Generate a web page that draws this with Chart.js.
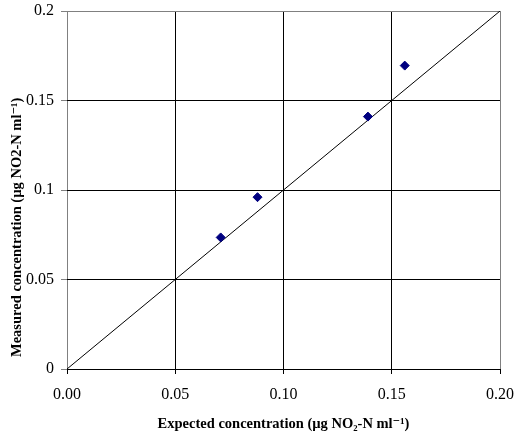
<!DOCTYPE html>
<html>
<head>
<meta charset="utf-8">
<script src="https://cdn.jsdelivr.net/npm/chart.js@4"></script>
<style>
  html, body { margin: 0; padding: 0; background: #ffffff; }
  #wrap { width: 515px; height: 437px; }
</style>
</head>
<body>
<div id="wrap"><canvas id="c" width="515" height="437"></canvas></div>
<script>
// Expected vs. measured nitrite concentration (µg NO2-N per ml)
const expected = [0.071, 0.088, 0.139, 0.156];
const measured = [0.0735, 0.096, 0.141, 0.1695];

// 1:1 reference line
const lineX = [0, 0.2];
const lineY = [0, 0.2];

const xTicks = [0, 0.05, 0.1, 0.15, 0.2];
const yTicks = [0, 0.05, 0.1, 0.15, 0.2];

const xTitle = 'Expected concentration (µg NO₂-N ml⁻¹)';
const yTitle = 'Measured concentration (µg NO2-N ml⁻¹)';

const points = expected.map((v, i) => ({ x: v, y: measured[i] }));
const oneToOne = lineX.map((v, i) => ({ x: v, y: lineY[i] }));

const serif = "'Liberation Serif', 'DejaVu Serif', serif";
const GRAY = '#808080';
const titleFont = 'bold 14.5px ' + serif;

// Vertical axis title, set a little below centre like a spreadsheet chart
const yTitlePlugin = {
  id: 'yTitle',
  afterDraw(chart) {
    const { ctx, chartArea } = chart;
    ctx.save();
    ctx.font = titleFont;
    ctx.fillStyle = '#000000';
    ctx.textAlign = 'left';
    ctx.textBaseline = 'middle';
    ctx.translate(17, chartArea.bottom - 12);
    ctx.rotate(-Math.PI / 2);
    ctx.fillText(yTitle, 0, 0);
    ctx.restore();
  }
};

new Chart(document.getElementById('c'), {
  type: 'scatter',
  data: {
    datasets: [
      {
        type: 'line',
        data: oneToOne,
        borderColor: '#000000',
        borderWidth: 1,
        pointRadius: 0,
        fill: false,
        order: 2
      },
      {
        data: points,
        pointStyle: 'rectRot',
        pointRadius: 4.5,
        backgroundColor: '#000080',
        borderColor: '#000080',
        borderWidth: 1,
        order: 1
      }
    ]
  },
  plugins: [yTitlePlugin],
  options: {
    responsive: false,
    animation: false,
    layout: { padding: { left: 0, top: 11, right: 15, bottom: 0 } },
    plugins: { legend: { display: false }, tooltip: { enabled: false } },
    scales: {
      x: {
        type: 'linear',
        min: 0, max: 0.2,
        afterBuildTicks: s => { s.ticks = xTicks.map(v => ({ value: v })); },
        afterFit: s => { s.height = 68; s.paddingLeft = 0; s.paddingRight = 0; },
        ticks: {
          color: '#000000',
          font: { family: serif, size: 16 },
          padding: 11,
          maxRotation: 0,
          callback: v => Number(v).toFixed(2)
        },
        grid: {
          color: c => (c.tick && c.tick.value > 0 && c.tick.value < 0.2) ? '#000000' : GRAY,
          tickColor: '#000000',
          tickLength: 5,
          lineWidth: 1
        },
        border: { display: false },
        title: {
          display: true,
          text: xTitle,
          color: '#000000',
          font: { family: serif, size: 14.5, weight: 'bold' },
          padding: { top: 0, bottom: 4 }
        }
      },
      y: {
        type: 'linear',
        min: 0, max: 0.2,
        afterBuildTicks: s => { s.ticks = yTicks.map(v => ({ value: v })); },
        afterFit: s => { s.width = 67; s.paddingTop = 0; s.paddingBottom = 0; },
        ticks: {
          color: '#000000',
          font: { family: serif, size: 16 },
          padding: 7,
          callback: v => String(Number(v.toFixed(2)))
        },
        grid: {
          color: c => (c.tick && c.tick.value < 0.2) ? '#000000' : GRAY,
          tickColor: GRAY,
          tickLength: 6,
          lineWidth: 1
        },
        border: { display: false },
        title: { display: false }
      }
    }
  }
});
</script>
</body>
</html>
